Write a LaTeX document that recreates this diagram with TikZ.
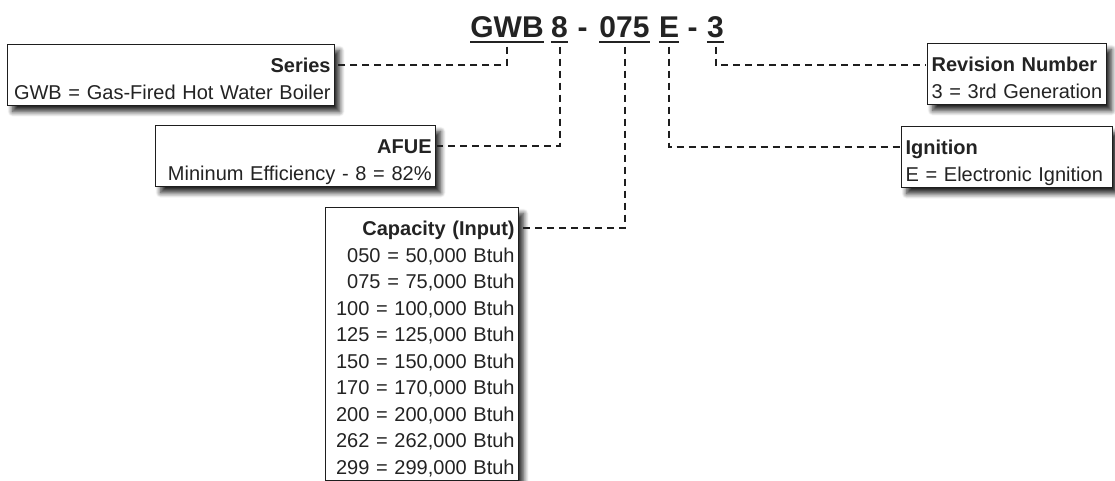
\documentclass[tikz,border=0pt]{standalone}
\usepackage{fontspec}
\setmainfont{Liberation Sans}
\usepackage{xcolor}
\usepackage{tikz}
\usetikzlibrary{positioning,calc,shadows.blur}
\definecolor{inkgray}{RGB}{35,35,35}
\definecolor{leadergray}{RGB}{30,30,30}

\newcommand{\boxhead}[1]{\rule{0pt}{25.5pt}\textbf{#1}}
\newcommand{\boxlast}{\rule[-4pt]{0pt}{4pt}}

\tikzset{
  codepart/.style={anchor=base, inner xsep=0pt, inner ysep=4.5pt, text depth=0pt,
    font=\fontsize{30}{36}\selectfont\bfseries, text=inkgray},
  uline/.style={line width=2.3pt, draw=inkgray},
  keybox/.style={draw=leadergray, line width=1.2pt, fill=white, anchor=north west,
    inner xsep=4pt, inner ysep=2.5pt, font=\fontsize{20}{26.5}\selectfont, text=inkgray,
    blur shadow={shadow xshift=5pt, shadow yshift=-6pt, shadow blur radius=5pt,
      shadow blur steps=8, shadow opacity=85}},
  leader/.style={draw=leadergray, line width=2pt, dash pattern=on 7pt off 5pt},
}

\begin{document}
\begin{tikzpicture}[x=1pt, y=-1pt]
    \clip (0,0) rectangle (1115,480);

    % model number
    \node[codepart] (gwb) at (507,37) {GWB};
    \node[codepart] (n8) at (559.5,37) {8};
    \node[codepart] (dash1) at (582.5,37) {-};
    \node[codepart] (n075) at (624.5,37) {075};
    \node[codepart] (nE) at (669,37) {E};
    \node[codepart] (dash2) at (692.5,37) {-};
    \node[codepart] (n3) at (715.5,37) {3};
    \foreach \p in {gwb,n8,n075,nE,n3}
        \draw[uline] (\p.south west) -- (\p.south east);

    % key boxes
    \node[keybox, text width=319pt, align=right] (series) at (7,44)
        {\boxhead{Series}\\GWB = Gas-Fired Hot Water Boiler\boxlast};
    \node[keybox, text width=272pt, align=right] (afue) at (155,125)
        {\boxhead{AFUE}\\Mininum Efficiency - 8 = 82\%\boxlast};
    \node[keybox, text width=185pt, align=right] (capacity) at (325,207)
        {\boxhead{Capacity (Input)}\\050 = 50,000 Btuh\\075 = 75,000 Btuh\\100 = 100,000 Btuh\\
         125 = 125,000 Btuh\\150 = 150,000 Btuh\\170 = 170,000 Btuh\\200 = 200,000 Btuh\\
         262 = 262,000 Btuh\\299 = 299,000 Btuh\boxlast};
    \node[keybox, text width=171pt, align=left] (revision) at (927,43)
        {\boxhead{Revision Number}\\3 = 3rd Generation\boxlast};
    \node[keybox, text width=203pt, align=left] (ignition) at (901,126)
        {\boxhead{Ignition}\\E = Electronic Ignition\boxlast};

    % leaders
    \draw[leader] ([yshift=-5pt]gwb.south) |- ($(series.north east)+(1,21)$);
    \draw[leader] ([yshift=-5pt]n8.south) |- ($(afue.north east)+(1,21)$);
    \draw[leader] ([yshift=-5pt]n075.south) |- ($(capacity.north east)+(1,21)$);
    \draw[leader] ([yshift=-5pt]nE.south) |- ($(ignition.north west)+(-1,21)$);
    \draw[leader] ([yshift=-5pt]n3.south) |- ($(revision.north west)+(-1,22)$);
\end{tikzpicture}
\end{document}
